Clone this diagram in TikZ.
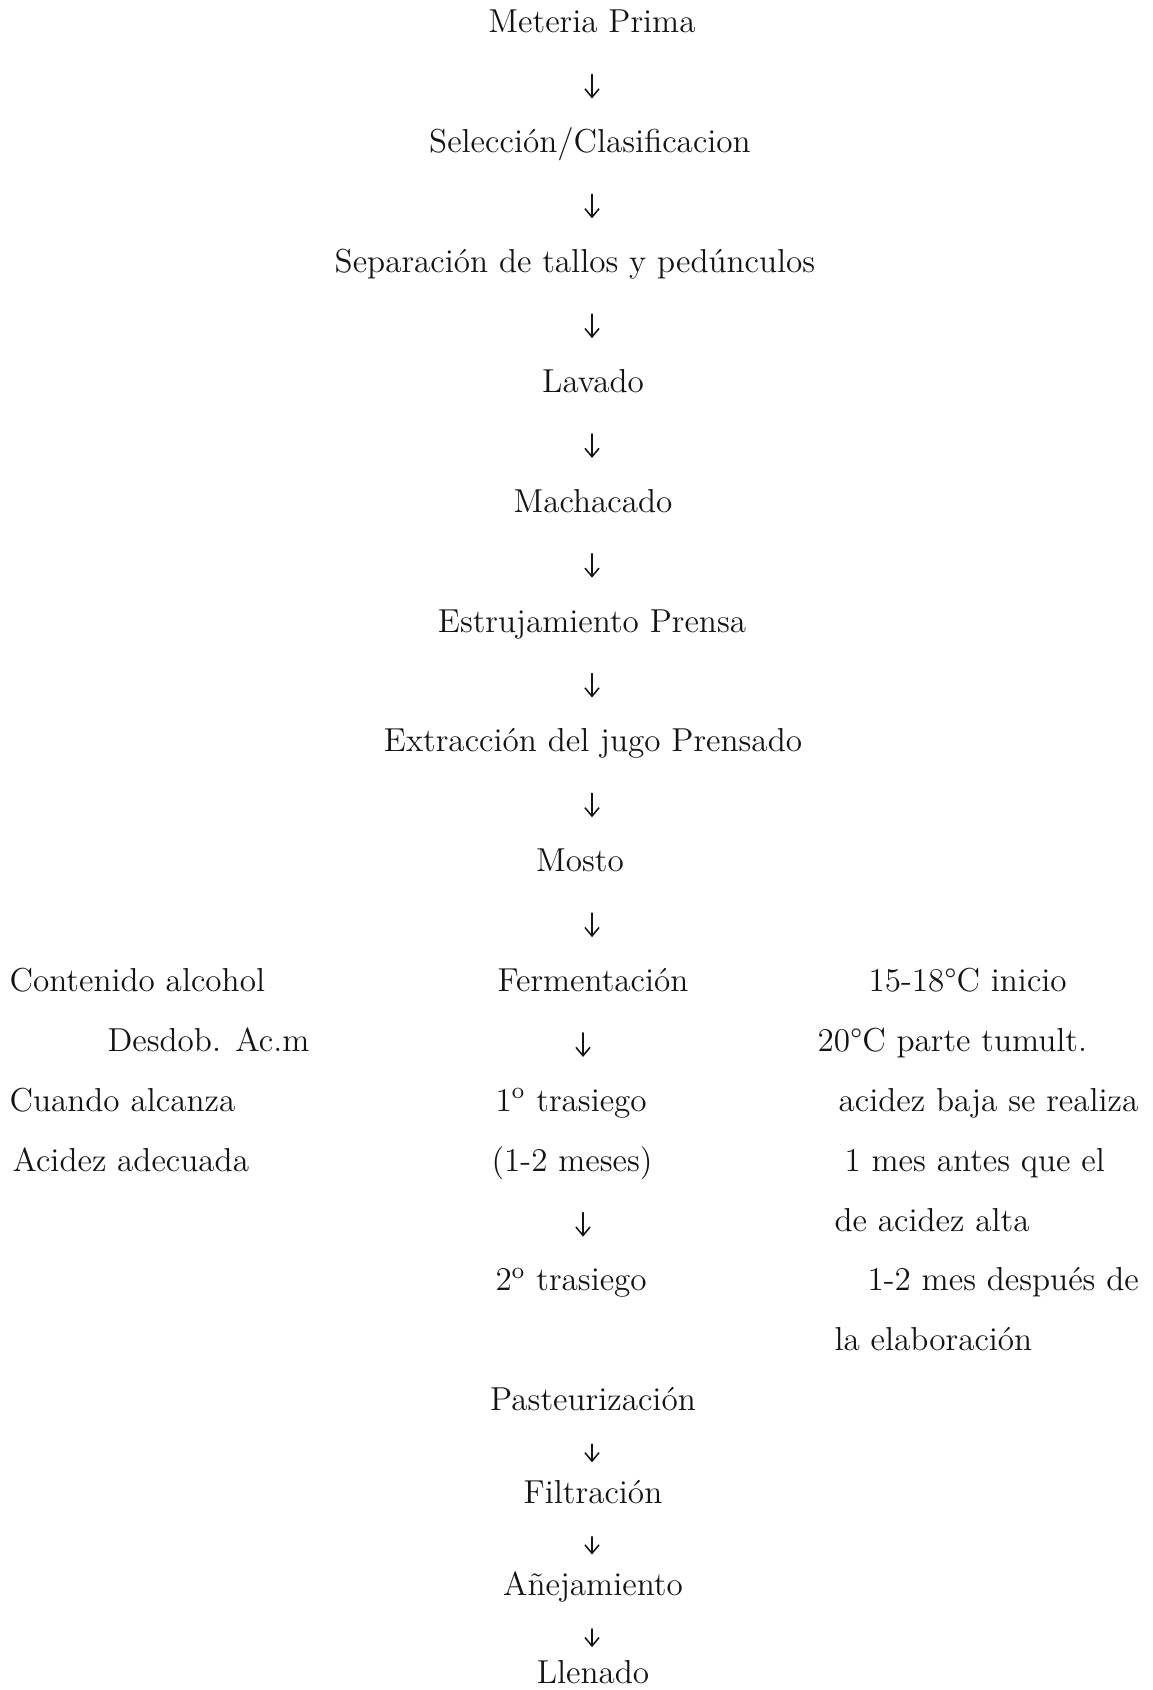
\documentclass[tikz,border=0pt]{standalone}
\usetikzlibrary{arrows.meta, calc, positioning}
\definecolor{ink}{HTML}{141414}
\tikzset{el/.style={line cap=round, line join=round},
  txt/.style={inner sep=0pt, text height=8pt, text depth=2.5pt, font=\fontsize{11.8}{14}\selectfont, text=ink},
  flow/.style={ink, line width=0.55pt, -{Straight Barb[length=3pt,width=5pt]}, shorten <=0.424cm, shorten >=0.39cm},
  flowb/.style={flow, shorten <=0.324cm, shorten >=0.224cm}}

\begin{document}
\begin{tikzpicture}[el, x=0.0125cm, y=-0.0125cm]
  \useasboundingbox (0,0) rectangle (1152,1690);
  \coordinate (ax) at (592,0); \coordinate (bx) at (583,0);
  % main column
  \foreach \nm/\x/\y/\t in {meteria/592/33/{Meteria Prima}, seleccion/590/152.8/{Selección/Clasificacion},
     separacion/575/272.6/{Separación de tallos y pedúnculos}, lavado/593/392.4/{Lavado},
     machacado/593/512.2/{Machacado}, estrujamiento/592/632/{Estrujamiento Prensa},
     extraccion/593/751.8/{Extracción del jugo Prensado}, mosto/580/871.6/{Mosto},
     fermentacion/593/991.4/{Fermentación}, pasteurizacion/593/1410.7/{Pasteurización},
     filtracion/593/1503.3/{Filtración}, anejamiento/593/1595.5/{Añejamiento}, llenado/593/1683/{Llenado}}
     \node[txt, anchor=base] (\nm) at (\x,\y) {\t};
  % trasiegos
  \node[txt, anchor=base west] (trasiegoA) at (495,1111.2) {1\textsuperscript{o} trasiego};
  \node[txt, anchor=base west] (meses) at (491,1171.1) {(1-2 meses)};
  \node[txt, anchor=base west] (trasiegoB) at (495,1290.9) {2\textsuperscript{o} trasiego};
  % side notes
  \foreach \nm/\x/\y/\t in {alcohol/9/991.4/{Contenido alcohol}, desdob/107/1051.3/{Desdob. Ac.m},
     alcanza/9/1111.2/{Cuando alcanza}, adecuada/12/1171.1/{Acidez adecuada},
     inicio/868/991.4/{15-18°C inicio}, tumult/817/1051.3/{20°C parte tumult.},
     realiza/838/1111.2/{acidez baja se realiza}, antes/844/1171.1/{1 mes antes que el},
     alta/834/1231/{de acidez alta}, despues/867/1290.9/{1-2 mes después de},
     elaboracion/834/1350.8/{la elaboración}}
     \node[txt, anchor=base west] (\nm) at (\x,\y) {\t};
  % arrows
  \foreach \a/\b in {meteria/seleccion, seleccion/separacion, separacion/lavado, lavado/machacado,
     machacado/estrujamiento, estrujamiento/extraccion, extraccion/mosto, mosto/fermentacion}
     \draw[flow] (\a.south -| ax) -- (\b.north -| ax);
  \draw[flow] (fermentacion.south -| bx) -- (trasiegoA.north -| bx);
  \draw[flow] (meses.south -| bx) -- (trasiegoB.north -| bx);
  \foreach \a/\b in {pasteurizacion/filtracion, filtracion/anejamiento}
     \draw[flowb] (\a.south -| ax) -- (\b.north -| ax);
  \draw[flowb, shorten >=0.16cm] (anejamiento.south -| ax) -- (llenado.north -| ax);
\end{tikzpicture}
\end{document}
